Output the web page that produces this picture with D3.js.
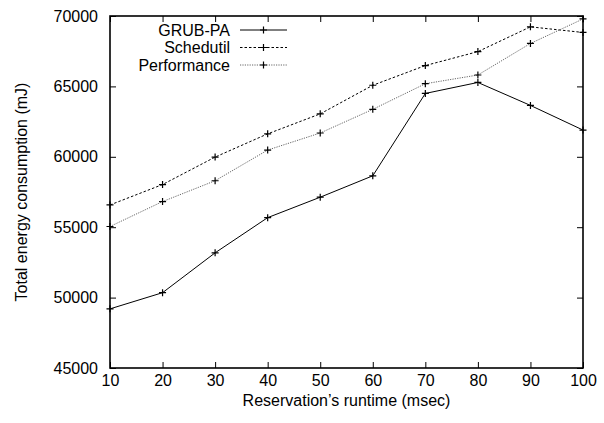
<!DOCTYPE html>
<html lang='en'>
  <head>
    <meta charset='utf-8'>
    <style>
      body { margin: 0; background: #fff; }
      svg { display: block; font-family: 'Liberation Sans', Arial, sans-serif; }
    </style>
  </head>
  <body>
    <div id='chart'></div>

    <script src='https://cdn.jsdelivr.net/npm/d3@7'></script>
    <script>
      // runtime in msec
      var runtimes = [10, 20, 30, 40, 50, 60, 70, 80, 90, 100];

      // energy in mJ
      var grubPa      = [49200, 50350, 53180, 55680, 57130, 58650, 64500, 65280, 63650, 61900];
      var schedutil   = [56580, 58030, 59980, 61630, 63050, 65080, 66480, 67470, 69230, 68830];
      var performance = [55050, 56820, 58300, 60480, 61690, 63370, 65190, 65810, 68050, 69790];

      var seriesNames = ['GRUB-PA', 'Schedutil', 'Performance'];
      var yTicks = [45000, 50000, 55000, 60000, 65000, 70000];

      var width = 604, height = 423;
      var margin = { top: 16, right: 21, bottom: 55, left: 110 };
      var fontSize = 16;

      var svg = d3.select('#chart').append('svg')
          .attr('width', width)
          .attr('height', height);

      var x = d3.scaleLinear()
          .domain([10, 100])
          .range([margin.left, width - margin.right]);

      var y = d3.scaleLinear()
          .domain([45000, 70000])
          .range([height - margin.bottom, margin.top]);

      var tickLen = 6;

      // gnuplot style: ticks inside, mirrored on all four sides
      svg.append('g')
          .attr('transform', 'translate(0,' + (height - margin.bottom) + ')')
          .call(d3.axisBottom(x).tickValues(runtimes).tickSizeInner(-tickLen).tickSizeOuter(0).tickPadding(7))
          .call(function (g) { g.select('.domain').remove(); });

      svg.append('g')
          .attr('transform', 'translate(0,' + margin.top + ')')
          .call(d3.axisTop(x).tickValues(runtimes).tickSizeInner(-tickLen).tickSizeOuter(0).tickFormat(''))
          .call(function (g) { g.select('.domain').remove(); });

      svg.append('g')
          .attr('transform', 'translate(' + margin.left + ',0)')
          .call(d3.axisLeft(y).tickValues(yTicks).tickSizeInner(-tickLen).tickSizeOuter(0).tickPadding(12).tickFormat(d3.format('d')))
          .call(function (g) { g.select('.domain').remove(); });

      svg.append('g')
          .attr('transform', 'translate(' + (width - margin.right) + ',0)')
          .call(d3.axisRight(y).tickValues(yTicks).tickSizeInner(-tickLen).tickSizeOuter(0).tickFormat(''))
          .call(function (g) { g.select('.domain').remove(); });

      svg.selectAll('.tick text')
          .attr('font-size', fontSize)
          .attr('font-family', "'Liberation Sans', Arial, sans-serif")
          .attr('fill', '#000');
      svg.selectAll('.tick line').attr('stroke', '#000');

      // frame
      svg.append('rect')
          .attr('x', margin.left)
          .attr('y', margin.top)
          .attr('width', width - margin.left - margin.right)
          .attr('height', height - margin.top - margin.bottom)
          .attr('fill', 'none')
          .attr('stroke', '#000')
          .attr('stroke-width', 1.6);

      svg.append('text')
          .attr('x', (margin.left + width - margin.right) / 2)
          .attr('y', 406)
          .attr('text-anchor', 'middle')
          .attr('font-size', fontSize)
          .text('Reservation\u2019s runtime (msec)');

      svg.append('text')
          .attr('transform', 'translate(27,' + ((margin.top + height - margin.bottom) / 2) + ') rotate(-90)')
          .attr('text-anchor', 'middle')
          .attr('font-size', fontSize)
          .text('Total energy consumption (mJ)');

      var styles = [
        { values: grubPa,      stroke: '#000', dash: null },
        { values: schedutil,   stroke: '#000', dash: '2.5,2' },
        { values: performance, stroke: '#666', dash: '1.2,1.2' }
      ];

      var line = d3.line()
          .x(function (d, i) { return x(runtimes[i]); })
          .y(function (d) { return y(d); });

      var arm = 3.5;
      function plus(g, cx, cy) {
        g.append('path')
            .attr('d', 'M' + (cx - arm) + ',' + cy + 'H' + (cx + arm) + 'M' + cx + ',' + (cy - arm) + 'V' + (cy + arm))
            .attr('stroke', '#000')
            .attr('stroke-width', 1.2);
      }

      styles.forEach(function (s, k) {
        var g = svg.append('g');
        g.append('path')
            .datum(s.values)
            .attr('d', line)
            .attr('fill', 'none')
            .attr('stroke', s.stroke)
            .attr('stroke-width', 1)
            .attr('stroke-dasharray', s.dash);
        s.values.forEach(function (v, i) { plus(g, x(runtimes[i]), y(v)); });

        // legend
        var ly = 30 + k * 17.5;
        svg.append('text')
            .attr('x', 230)
            .attr('y', ly + 5.5)
            .attr('text-anchor', 'end')
            .attr('font-size', fontSize)
            .text(seriesNames[k]);
        svg.append('line')
            .attr('x1', 240).attr('x2', 287)
            .attr('y1', ly).attr('y2', ly)
            .attr('stroke', s.stroke)
            .attr('stroke-width', 1)
            .attr('stroke-dasharray', s.dash);
        plus(svg, 263.5, ly);
      });
    </script>
  </body>
</html>
